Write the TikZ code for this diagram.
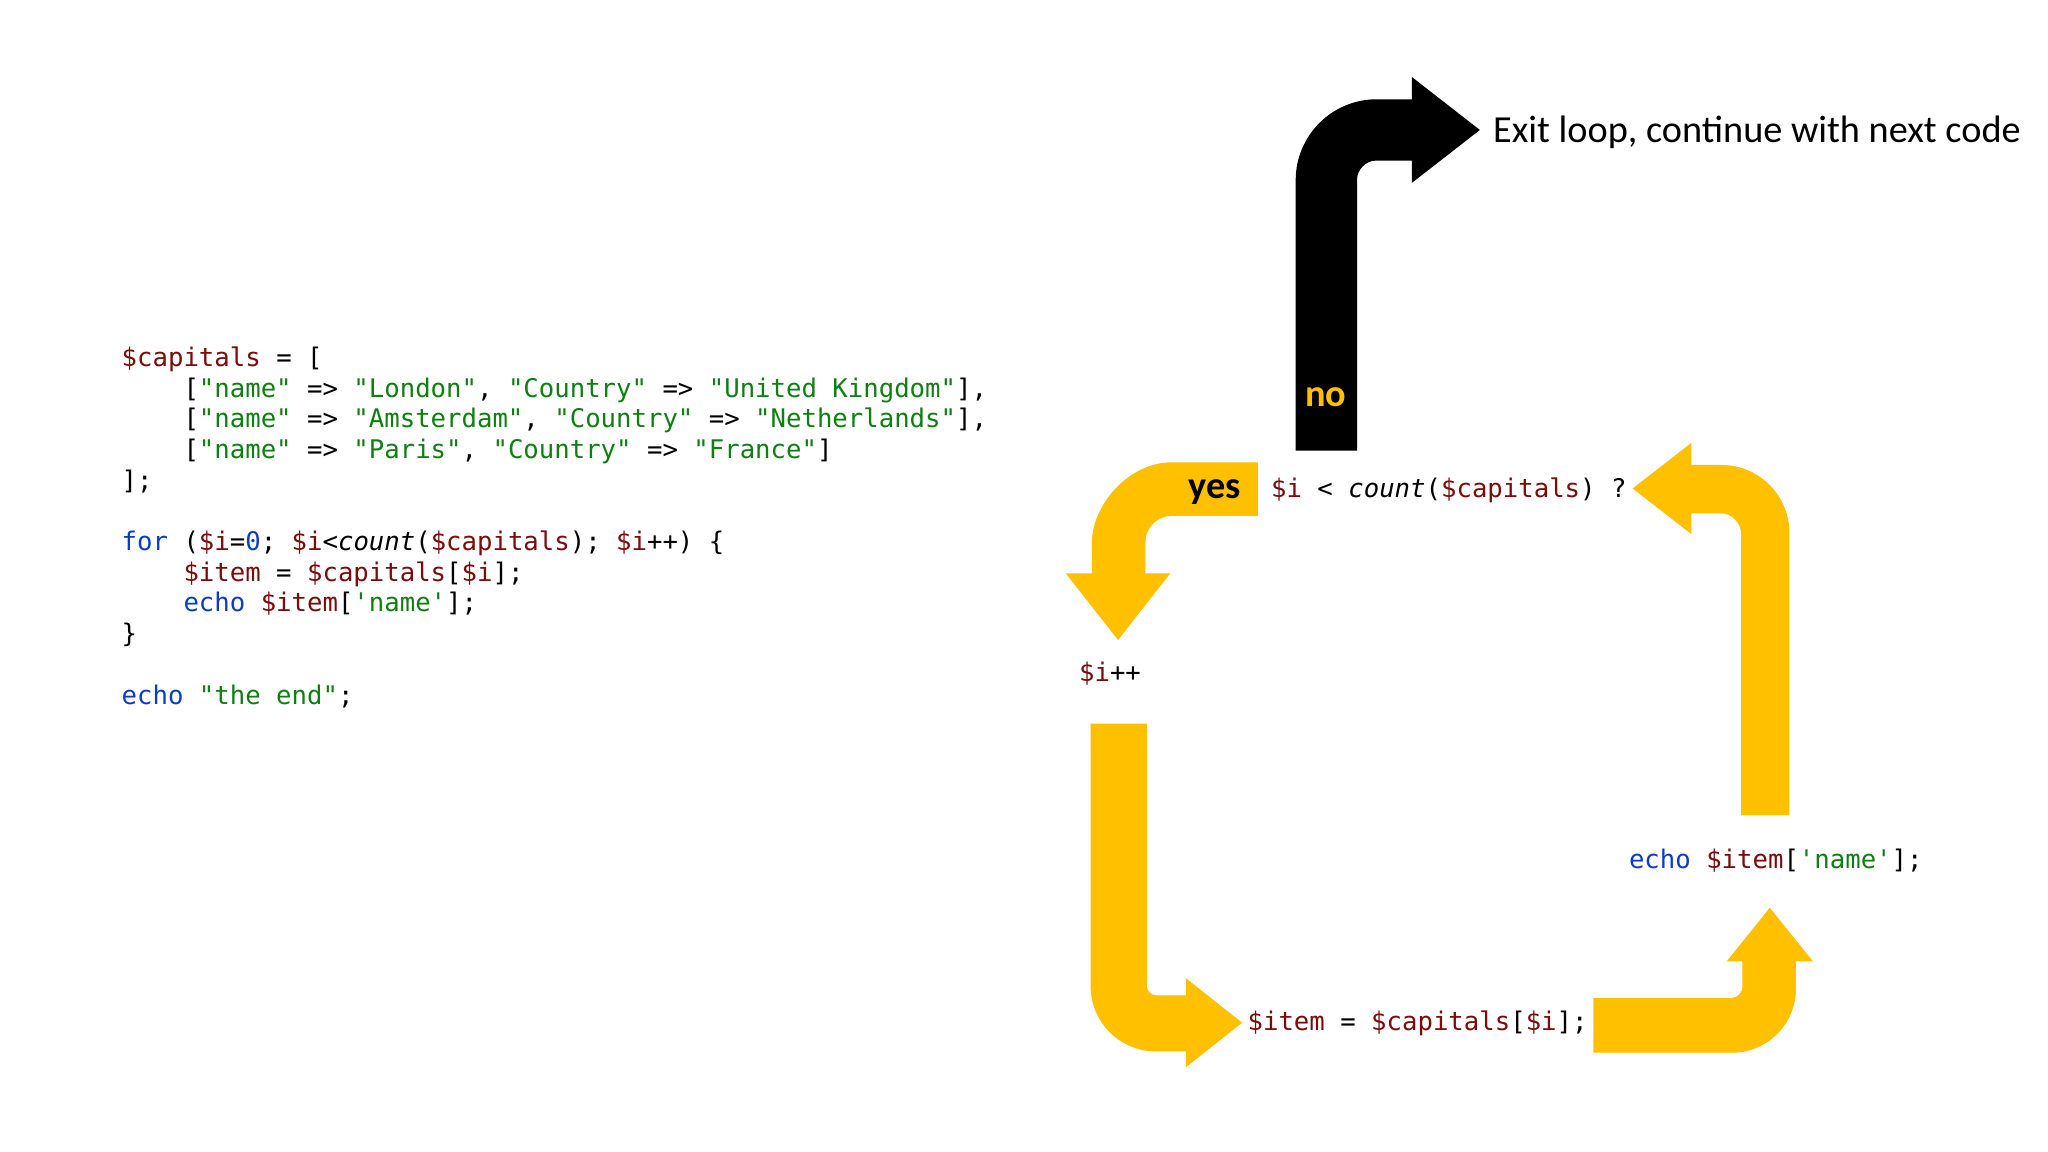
\documentclass[tikz,border=0pt]{standalone}
\usepackage{fontspec}
\setmainfont{Carlito}
\newfontfamily\codefont{DejaVu Sans Mono}
\definecolor{cvarc}{HTML}{7B0C0C}
\definecolor{cstrc}{HTML}{0F7F12}
\definecolor{ckwc}{HTML}{0B3CC5}
\definecolor{gold}{HTML}{FFC000}
\newcommand\cvar[1]{\textcolor{cvarc}{#1}}
\newcommand\cstr[1]{\textcolor{cstrc}{#1}}
\newcommand\ckw[1]{\textcolor{ckwc}{#1}}
\begin{document}
\begin{tikzpicture}[x=1pt,y=-1pt,
  code/.style={anchor=base west,inner sep=0pt,font=\codefont\fontsize{19.65}{23.5}\selectfont},
  lbl/.style={anchor=base west,inner sep=0pt,font=\fontsize{29.3}{34}\selectfont},
  goldarrow/.style={fill=gold,draw=none},
  blackarrow/.style={fill=black,draw=none}]
\fill[white] (0,0) rectangle (1568,882);
\useasboundingbox (0,0) rectangle (1568,882);

% ---- code listing ----
\node[code] (c1) at (93,280.5) {\cvar{\$capitals} = [};
\node[code] (c2) at (140.3,304) {[\cstr{"name"} => \cstr{"London"}, \cstr{"Country"} => \cstr{"United Kingdom"}],};
\node[code] (c3) at (140.3,327.5) {[\cstr{"name"} => \cstr{"Amsterdam"}, \cstr{"Country"} => \cstr{"Netherlands"}],};
\node[code] (c4) at (140.3,351) {[\cstr{"name"} => \cstr{"Paris"}, \cstr{"Country"} => \cstr{"France"}]};
\node[code] (c5) at (93,374.5) {];};
\node[code] (c7) at (93,421.5) {\ckw{for} (\cvar{\$i}=\ckw{0}; \cvar{\$i}<\textit{count}(\cvar{\$capitals}); \cvar{\$i}++) \{};
\node[code] (c8) at (140.3,445) {\cvar{\$item} = \cvar{\$capitals}[\cvar{\$i}];};
\node[code] (c9) at (140.3,468.5) {\ckw{echo} \cvar{\$item}[\cstr{'name'}];};
\node[code] (c10) at (93,492) {\}};
\node[code] (c12) at (93,539) {\ckw{echo} \cstr{"the end"};};

% ---- block arrows ----
% exit (no) arrow
\fill[blackarrow] (992,345) -- (992,138) .. controls (992,103.76) and (1019.76,76) .. (1054,76)
  -- (1081,76) -- (1081,59) -- (1133,99.5) -- (1081,140) -- (1081,123) -- (1053,123)
  .. controls (1045.27,123) and (1039,130.73) .. (1039,137) -- (1039,345) -- cycle;
% yes arrow
\fill[goldarrow] (963,354) -- (897,354) .. controls (863.31,354) and (836,387.69) .. (836,415)
  -- (836,439) -- (816,439) -- (856,490) -- (896,439) -- (877,439) -- (877,415)
  .. controls (877,403.95) and (885.95,395) .. (897,395) -- (963,395) -- cycle;
% loop back arrow
\fill[goldarrow] (1333,624) -- (1370,624) -- (1370,408) .. controls (1370,379.28) and (1346.72,356) .. (1318,356)
  -- (1295,356) -- (1295,339) -- (1250,374) -- (1295,409) -- (1295,393) -- (1318,393)
  .. controls (1326.28,393) and (1333,401.28) .. (1333,408) -- cycle;
% i++ -> item arrow
\fill[goldarrow] (835,554) -- (835,755) .. controls (835,782.6) and (857.4,805) .. (885,805)
  -- (908,805) -- (908,817) -- (951,783) -- (908,749) -- (908,762) -- (885,762)
  .. controls (881.13,762) and (878,758.13) .. (878,755) -- (878,554) -- cycle;
% item -> echo arrow
\fill[goldarrow] (1220,764) -- (1326,764) .. controls (1330.42,764) and (1334,759.58) .. (1334,756)
  -- (1334,736) -- (1322,736) -- (1355,695) -- (1388,736) -- (1375,736) -- (1375,757)
  .. controls (1375,784.06) and (1353.06,806) .. (1326,806) -- (1220,806) -- cycle;

% ---- diagram texts ----
\node[code] (cond) at (973,381) {\cvar{\$i} < \textit{count}(\cvar{\$capitals}) ?};
\node[code] (inc) at (826,522) {\cvar{\$i}++};
\node[code] (assign) at (955,789) {\cvar{\$item} = \cvar{\$capitals}[\cvar{\$i}];};
\node[code] (echo) at (1247,665) {\ckw{echo} \cvar{\$item}[\cstr{'name'}];};
\node[lbl] (exit) at (1143,109) {Exit loop, continue with next code};
\node[lbl,font=\fontsize{29.3}{34}\selectfont\bfseries,text=gold] (no) at (999,311.5) {no};
\node[lbl,font=\fontsize{29.3}{34}\selectfont\bfseries,text=black] (yes) at (910,381.5) {yes};
\end{tikzpicture}
\end{document}
